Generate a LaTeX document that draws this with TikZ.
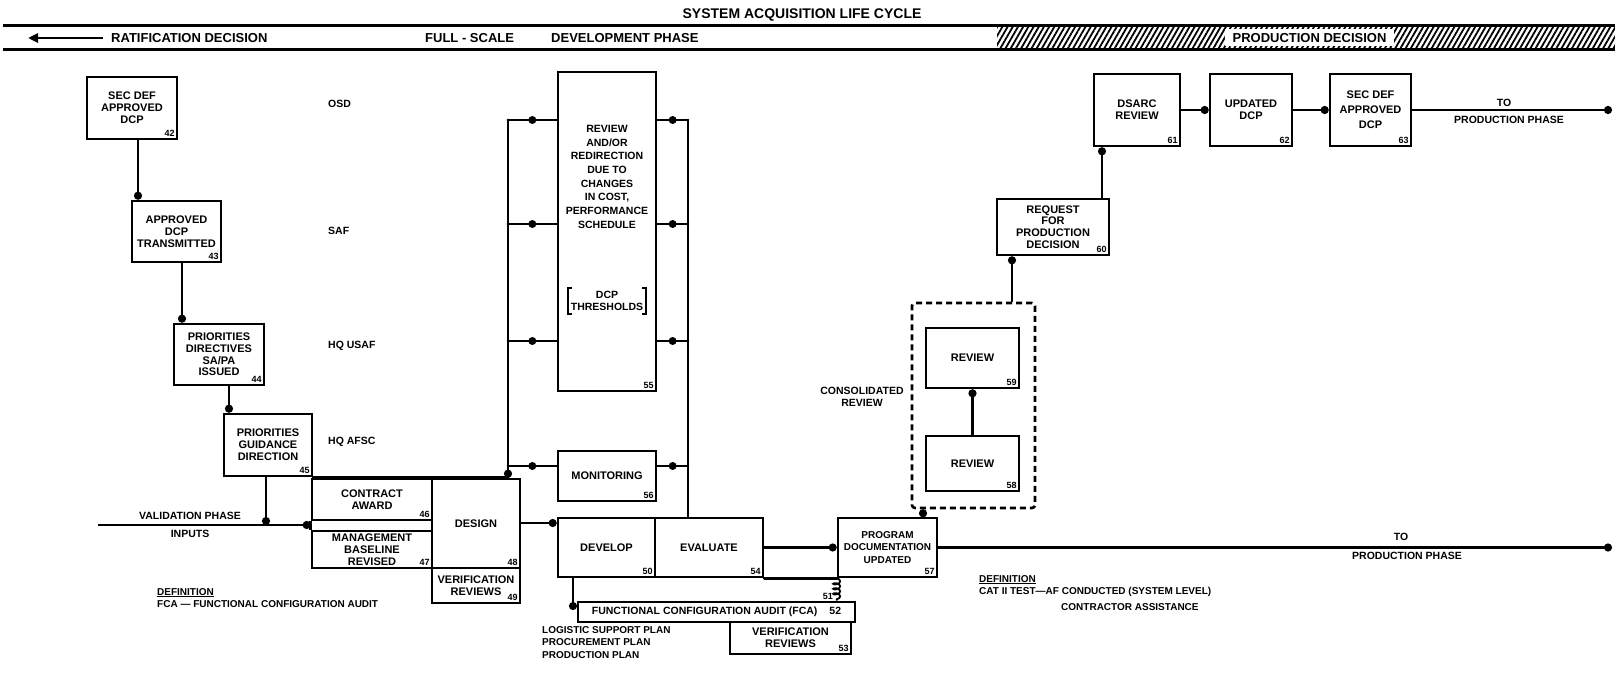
\documentclass[tikz,border=0pt]{standalone}
\usepackage{fontspec}
\setmainfont{Liberation Sans}
\usetikzlibrary{arrows.meta,patterns.meta,decorations.markings,decorations.pathmorphing}
\begin{document}
\begin{tikzpicture}[x=1pt,y=-1pt,
  box/.style={draw, line width=2.6pt, align=center, inner sep=2pt,
    font=\fontsize{11}{11.8}\selectfont\bfseries},
  num/.style={font=\fontsize{9}{9}\selectfont\bfseries, inner sep=3.5pt, anchor=south east},
  txt/.style={font=\fontsize{10.5}{12}\selectfont\bfseries, inner sep=0pt},
  hdr/.style={font=\fontsize{13}{14}\selectfont\bfseries, inner sep=0pt},
  line/.style={line width=2.8pt, line cap=round},
  arr/.style={line width=2.8pt, -{Circle[length=8pt]}},
  middot/.style={postaction={decorate}, decoration={markings,
    mark=at position 0.5 with {\fill circle (4pt);}}}
]
\fill[white] (0,0) rectangle (1615,674);
\useasboundingbox (0,0) rectangle (1615,674);

% ---------------- header ----------------
\node[font=\fontsize{14}{15}\selectfont\bfseries, inner sep=0pt] (title) at (802,14.5) {SYSTEM ACQUISITION LIFE CYCLE};
\fill[pattern={Lines[angle=60,distance=4.5pt,line width=1.8pt]}] (997,27) rectangle (1615,49);
\draw[line width=3pt] (3,26) -- (1615,26);
\draw[line width=3pt] (3,49.5) -- (1615,49.5);
\node[hdr, anchor=west] (rat) at (111,38) {RATIFICATION DECISION};
\coordinate (ratR) at (103,38);
\coordinate (ratL) at (28,38);
\draw[line width=2.8pt, -{Triangle[length=10pt,width=9pt]}] (ratR) -- (ratL);
\node[hdr, anchor=west] (fs) at (425,38) {FULL - SCALE};
\node[hdr, anchor=west] (dp) at (551,38) {DEVELOPMENT PHASE};
\node[hdr, fill=white, inner xsep=8pt, minimum height=17pt] (prod) at (1309.5,38) {PRODUCTION DECISION};

% ---------------- left column ----------------
\node[box, minimum width=90pt, minimum height=62pt, label={[num]south east:42}] (n42) at (132,108) {SEC DEF\\APPROVED\\DCP};
\node[box, minimum width=89pt, minimum height=61pt, label={[num]south east:43}] (n43) at (176.5,231.5) {APPROVED\\DCP\\TRANSMITTED};
\node[box, minimum width=90pt, minimum height=61pt, label={[num]south east:44}] (n44) at (219,354.5) {PRIORITIES\\DIRECTIVES\\SA/PA\\ISSUED};
\node[box, minimum width=88pt, minimum height=62pt, label={[num]south east:45}] (n45) at (268,445) {PRIORITIES\\GUIDANCE\\DIRECTION};

\node[txt, anchor=west] (osd) at (328,104) {OSD};
\node[txt, anchor=west] (saf) at (328,231) {SAF};
\node[txt, anchor=west] (hqusaf) at (328,346) {HQ USAF};
\node[txt, anchor=west] (hqafsc) at (328,442) {HQ AFSC};

\draw[arr] (138,0 |- n42.south) -- (138,0 |- n43.north);
\draw[arr] (182,0 |- n43.south) -- (182,0 |- n44.north);
\draw[arr] (229,0 |- n44.south) -- (229,0 |- n45.north);

\node[box, minimum width=120pt, minimum height=41pt, label={[num]south east:46}] (n46) at (372,499.5) {CONTRACT\\AWARD};
\node[box, minimum width=120pt, minimum height=37pt, label={[num]south east:47}] (n47) at (372,549.5) {MANAGEMENT\\BASELINE\\REVISED};
\node[box, minimum width=88pt, minimum height=89pt, label={[num]south east:48}] (n48) at (476,523.5) {DESIGN};
\node[box, minimum width=88pt, minimum height=35pt, label={[num]south east:49}] (n49) at (476,585.5) {VERIFICATION\\REVIEWS};
\draw[line width=2.6pt] (n46.south west) -- (n47.north west);

\coordinate (vin) at (98,525);
\draw[arr] (vin) -- (n46.west |- 0,525);
\draw[arr] (266,0 |- n45.south) -- (266,525);
\node[txt] (vp) at (190,516) {VALIDATION PHASE};
\node[txt] (inp) at (190,534) {INPUTS};

\node[txt, anchor=north west, align=left, font=\fontsize{10}{12}\selectfont\bfseries] (def1) at (157,588) {\underline{DEFINITION}\\FCA — FUNCTIONAL CONFIGURATION AUDIT};

% ---------------- feedback loop ----------------
\node[box, minimum width=98pt, minimum height=319pt, label={[num]south east:55}] (n55) at (607,231.5) {};
\node[txt, align=center, anchor=north, font=\fontsize{10.5}{13.7}\selectfont\bfseries] (n55t) at (607,125) {REVIEW\\AND/OR\\REDIRECTION\\DUE TO\\CHANGES\\IN COST,\\PERFORMANCE\\SCHEDULE};
\node[txt, align=center, inner xsep=3pt, inner ysep=3pt] (n55th) at (607,301) {DCP\\THRESHOLDS};
\draw[line width=2pt] ([xshift=4pt]n55th.north west) -- (n55th.north west) -- (n55th.south west) -- ([xshift=4pt]n55th.south west);
\draw[line width=2pt] ([xshift=-4pt]n55th.north east) -- (n55th.north east) -- (n55th.south east) -- ([xshift=-4pt]n55th.south east);
\node[box, minimum width=98pt, minimum height=50pt, label={[num]south east:56}] (n56) at (607,476) {MONITORING};

\coordinate (lbtop) at (508,120);
\coordinate (rbtop) at (688,120);
\draw[line, middot] (n55.west |- 0,120) -- (lbtop);
\draw[line, middot] (n55.west |- 0,224) -- (508,224);
\draw[line, middot] (n55.west |- 0,341) -- (508,341);
\draw[line, middot] (n56.west |- 0,466) -- (508,466);
\draw[line, middot] (rbtop) -- (n55.east |- 0,120);
\draw[line, middot] (688,224) -- (n55.east |- 0,224);
\draw[line, middot] (688,341) -- (n55.east |- 0,341);
\draw[line, middot] (688,466) -- (n56.east |- 0,466);
\draw[line] (n45.south east) -- (508,0 |- n45.south);
\draw[arr, line cap=round] (lbtop) -- (508,0 |- n48.north);

% ---------------- develop / evaluate ----------------
\node[box, minimum width=97pt, minimum height=59pt, label={[num]south east:50}] (n50) at (606.5,547.5) {DEVELOP};
\node[box, minimum width=108pt, minimum height=59pt, label={[num]south east:54}] (n54) at (709,547.5) {EVALUATE};
\draw[line] (688,0 |- n54.north) -- (rbtop);
\draw[arr] (n48.east |- 0,523) -- (n50.west |- 0,523);

\node[box, minimum width=99pt, minimum height=59pt, label={[num]south east:57}, font=\fontsize{10}{12.5}\selectfont\bfseries] (n57) at (887.5,547.5) {PROGRAM\\DOCUMENTATION\\UPDATED};
\draw[arr] (n54.east) -- (n57.west);
\draw[line] (n54.south east) -- (n57.south west);

\node[box, minimum width=277pt, minimum height=20pt, font=\fontsize{10.5}{11}\selectfont\bfseries] (n52) at (716.5,612) {FUNCTIONAL CONFIGURATION AUDIT (FCA)\hspace{12pt}52};
\node[box, minimum width=121pt, minimum height=32pt, label={[num]south east:53}] (n53) at (790.5,638) {VERIFICATION\\REVIEWS};
\draw[line width=1.8pt, decorate, decoration={coil, aspect=0.5, amplitude=3.5pt, segment length=5pt}] (n57.south west) -- (n57.south west |- n52.north);
\node[num, anchor=east, inner sep=0pt] (n51) at (833,596) {51};

\draw[arr] (573,0 |- n50.south) -- (573,610);
\node[txt, anchor=north west, align=left, font=\fontsize{10}{12.5}\selectfont\bfseries] (plans) at (542,626) {LOGISTIC SUPPORT PLAN\\PROCUREMENT PLAN\\PRODUCTION PLAN};

\coordinate (out2) at (1612,547.5);
\draw[arr] (n57.east) -- (out2);
\node[txt] (to2) at (1401,537) {TO};
\node[txt] (pp2) at (1407,556) {PRODUCTION PHASE};

\node[txt, anchor=north west, align=left, font=\fontsize{10}{12.8}\selectfont\bfseries] (def2) at (979,575) {\underline{DEFINITION}\\CAT II TEST—AF CONDUCTED (SYSTEM LEVEL)};
\node[txt, anchor=west, font=\fontsize{10}{12}\selectfont\bfseries] (ca) at (1061,607) {CONTRACTOR ASSISTANCE};

% ---------------- consolidated review ----------------
\node[draw, dash pattern=on 6pt off 4pt, line width=2.6pt, rounded corners=3pt, minimum width=123pt, minimum height=205pt] (cons) at (973.5,405.5) {};
\node[box, minimum width=93pt, minimum height=60pt, label={[num]south east:59}] (n59) at (972.5,358) {REVIEW};
\node[box, minimum width=93pt, minimum height=55pt, label={[num]south east:58}] (n58) at (972.5,463.5) {REVIEW};
\draw[arr] (n58.north) -- (n59.south);
\node[txt, align=center] (consl) at (862,396.5) {CONSOLIDATED\\REVIEW};
\draw[arr] (923,0 |- n57.north) -- (923,0 |- cons.south);

% ---------------- production decision ----------------
\node[box, minimum width=112pt, minimum height=56pt, label={[num]south east:60}] (n60) at (1053,227) {REQUEST\\FOR\\PRODUCTION\\DECISION};
\draw[arr] (1012,0 |- cons.north) -- (1012,0 |- n60.south);
\node[box, minimum width=86pt, minimum height=72pt, label={[num]south east:61}] (n61) at (1137,110) {DSARC\\REVIEW};
\node[box, minimum width=82pt, minimum height=72pt, label={[num]south east:62}] (n62) at (1251,110) {UPDATED\\DCP};
\node[box, minimum width=81pt, minimum height=72pt, label={[num]south east:63}, font=\fontsize{11}{15}\selectfont\bfseries] (n63) at (1370.5,110) {SEC DEF\\APPROVED\\DCP};
\draw[arr] (1102,0 |- n60.north) -- (1102,0 |- n61.south);
\draw[arr] (n61.east) -- (n62.west);
\draw[arr] (n62.east) -- (n63.west);
\coordinate (out1) at (1612,110);
\draw[arr] (n63.east) -- (out1);
\node[txt] (to1) at (1504,103) {TO};
\node[txt] (pp1) at (1509,120) {PRODUCTION PHASE};
\end{tikzpicture}
\end{document}
